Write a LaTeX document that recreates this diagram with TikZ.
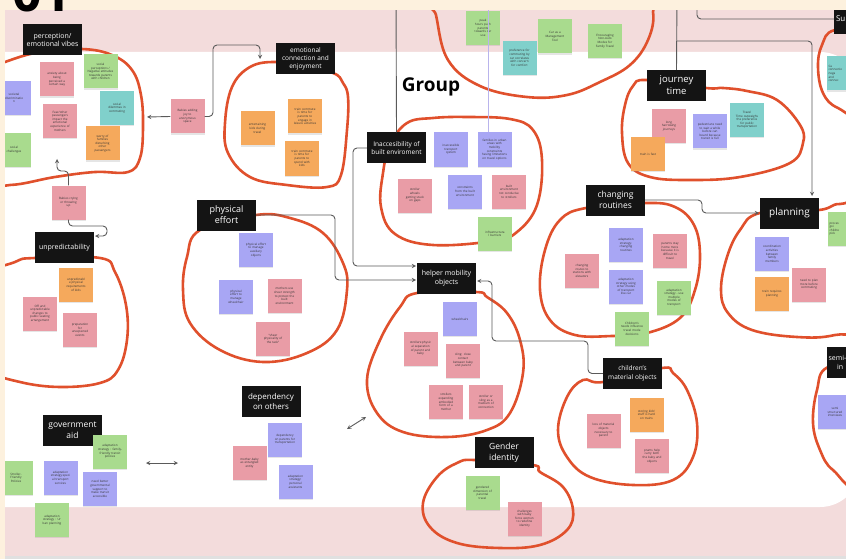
\documentclass[tikz,border=0pt]{standalone}
\usepackage{fontspec}
\setmainfont{Open Sans}
\usepackage{tikz}
\usetikzlibrary{arrows,shadows}

\definecolor{cream}{HTML}{FDF1DE}
\definecolor{bandpink}{HTML}{F3DCDC}
\definecolor{notepink}{HTML}{E99CA6}
\definecolor{notegreen}{HTML}{A9DB8E}
\definecolor{noteblue}{HTML}{A8A6F4}
\definecolor{noteorange}{HTML}{F5A95C}
\definecolor{noteteal}{HTML}{80D0CB}
\definecolor{loopred}{HTML}{E0502C}
\definecolor{linkgray}{HTML}{5A5A5A}
\definecolor{lavender}{HTML}{B9B4EC}

\tikzset{
  note/.style={minimum width=34pt, minimum height=34pt, text width=31pt, inner sep=1pt,
    align=center, font=\fontsize{3}{3.6}\selectfont, text=black!80,
    drop shadow={opacity=0.2, shadow xshift=0.4pt, shadow yshift=-1.2pt}},
  pinknote/.style={note, fill=notepink},
  greennote/.style={note, fill=notegreen},
  bluenote/.style={note, fill=noteblue},
  orangenote/.style={note, fill=noteorange},
  tealnote/.style={note, fill=noteteal},
  cutnote/.style={align=left, text width=31pt},
  header/.style={fill=black!92, text=white, minimum width=59pt, minimum height=31pt,
    inner sep=1pt, align=center},
  cluster/.style={draw=loopred, line width=2.6pt, line join=round},
  link/.style={draw=linkgray, line width=0.9pt, rounded corners=4pt},
  >=stealth
}

\begin{document}
\begin{tikzpicture}[x=1pt, y=-1pt]
  \useasboundingbox (0,0) rectangle (846,559);
  \clip (0,0) rectangle (846,559);
  % Board background:
  \fill[bandpink] (0,0) rectangle (846,559);
  \fill[white, rounded corners=40pt] (-60,52) rectangle (860,507);
  \fill[black!12] (0,556) rectangle (846,559);

  % Cluster outlines:
  \draw[cluster] plot[smooth cycle, tension=0.65] coordinates {(-25,75) (5,62) (40,52) (82,49) (112,55) (132,70) (141,95) (143,128) (140,158) (128,172) (95,172) (55,177) (10,185) (-25,180)};
  \draw[cluster] plot[smooth cycle, tension=0.65] coordinates {(333,73) (300,67) (275,62) (250,67) (232,87) (225,123) (228,153) (250,177) (287,185) (327,187) (341,175) (347,130) (348,97) (343,83)};
  \draw[cluster] plot[smooth cycle, tension=0.65] coordinates {(407,123) (433,118) (467,117) (510,119) (533,130) (542,160) (537,205) (517,232) (493,241) (433,245) (395,234) (381,207) (383,173) (390,145)};
  \draw[cluster] plot[smooth cycle, tension=0.65] coordinates {(432,-10) (436,15) (448,60) (480,86) (527,97) (567,95) (600,82) (630,65) (648,40) (653,12) (640,-10)};
  \draw[cluster] plot[smooth cycle, tension=0.65] coordinates {(647,80) (633,86) (625,105) (622,133) (628,163) (650,177) (690,180) (740,177) (790,163) (803,143) (800,125) (777,100) (747,91) (723,88) (706,88)};
  \draw[cluster] plot[smooth cycle, tension=0.65] coordinates {(835,30) (822,45) (818,67) (823,93) (838,108) (870,115) (880,30)};
  \draw[cluster] plot[smooth cycle, tension=0.65] coordinates {(586,208) (560,220) (545,250) (540,290) (550,320) (575,335) (612,336) (647,333) (680,318) (695,290) (700,255) (694,225) (675,207) (645,203)};
  \draw[cluster] plot[smooth cycle, tension=0.65] coordinates {(760,213) (740,230) (727,257) (721,290) (728,313) (752,330) (797,337) (835,335) (875,320) (875,210) (840,204) (819,210)};
  \draw[cluster] plot[smooth cycle, tension=0.65] coordinates {(35,258) (15,262) (-15,280) (-20,340) (-10,370) (20,382) (60,387) (100,383) (118,370) (127,340) (126,305) (115,272) (100,258)};
  \draw[cluster] plot[smooth cycle, tension=0.65] coordinates {(200,230) (187,257) (183,290) (190,323) (220,350) (263,362) (307,353) (337,330) (347,290) (343,263) (323,233) (290,218) (256,215)};
  \draw[cluster] plot[smooth cycle, tension=0.65] coordinates {(417,293) (400,307) (380,340) (367,380) (377,413) (403,432) (447,437) (487,430) (510,413) (523,373) (520,340) (507,313) (487,297) (476,292)};
  \draw[cluster] plot[smooth cycle, tension=0.65] coordinates {(603,382) (583,380) (567,397) (558,430) (567,457) (590,477) (633,485) (673,480) (693,457) (697,423) (687,390) (673,373) (662,368)};
  \draw[cluster] plot[smooth cycle, tension=0.65] coordinates {(828,367) (817,390) (813,423) (820,450) (833,470) (860,480) (875,360)};
  \draw[cluster] plot[smooth cycle, tension=0.65] coordinates {(475,460) (457,463) (437,477) (423,503) (430,527) (457,543) (500,548) (540,545) (567,530) (573,510) (563,487) (540,472) (533,465)};

  % Headers:
  \node[header, font=\fontsize{7}{8.5}\selectfont] (hPercep) at (52.5,40) {perception/\\emotional vibes};
  \node[header, font=\fontsize{6.5}{8}\selectfont] (hEmo) at (305.5,58.5) {emotional\\connection and\\enjoyment};
  \node[header, font=\fontsize{6.5}{8.5}\selectfont] (hInacc) at (396.5,148) {Inaccesibility of\\built enviroment};
  \node[header, font=\fontsize{9.5}{12}\selectfont] (hJourney) at (676.5,85.5) {journey\\time};
  \node[header, font=\fontsize{8.5}{11}\selectfont] (hRoutines) at (615.5,200) {changing\\routines};
  \node[header, font=\fontsize{10}{12}\selectfont] (hPlan) at (789.5,213) {planning};
  \node[header, font=\fontsize{7}{8.5}\selectfont] (hUnpred) at (64.5,247.5) {unpredictability};
  \node[header, font=\fontsize{9}{11}\selectfont] (hPhys) at (226.5,215) {physical\\effort};
  \node[header, font=\fontsize{7}{9}\selectfont] (hHelper) at (446.5,278) {helper mobility\\objects};
  \node[header, font=\fontsize{6.5}{8.5}\selectfont] (hChild) at (632.5,373.5) {children's\\material objects};
  \node[header, font=\fontsize{7}{9}\selectfont, align=left, text width=55pt] (hSemi) at (856,362.5) {semi-\\\hspace*{8.5pt}in};
  \node[header, font=\fontsize{8}{10}\selectfont] (hDep) at (271,401.5) {dependency\\on others};
  \node[header, font=\fontsize{8.5}{11}\selectfont] (hGov) at (72.5,430) {government\\aid};
  \node[header, font=\fontsize{8.5}{11}\selectfont] (hGender) at (504,452.5) {Gender\\identity};
  \node[header, font=\fontsize{8}{10}\selectfont, align=left, text width=55pt] (hSu) at (863.5,19) {Su};
  \node[font=\fontsize{19}{19}\selectfont\bfseries] (groupTitle) at (431,87) {Group};

  % Sticky notes: perception / emotional vibes
  \node[bluenote] (disc) at (14,98) {societal\\discriminatio\\n};
  \node[greennote] (chal) at (14,150) {social\\challenges};
  \node[pinknote] (anx) at (57,79.5) {anxiety about\\being\\perceived a\\certain way};
  \node[greennote] (negatt) at (100.5,71.5) {social\\perceptions /\\Negative attitudes\\towards parents\\with children};
  \node[pinknote] (fear) at (60,121) {Fear/other\\passengers\\impact the\\emotional\\experience of\\mothers};
  \node[tealnote] (dilem) at (117,108) {social\\dilemmas in\\commuting};
  \node[orangenote] (worry) at (102.5,143.5) {worry of\\families\\disturbing\\other\\passengers};
  \node[pinknote] (joy) at (187.5,116.5) {Babies adding\\joy to\\anonymous\\space};
  \node[pinknote] (cry) at (68.5,202.5) {Babies crying\\or throwing\\up};
  % emotional connection
  \node[orangenote] (entert) at (257.5,128.5) {entertaining\\kids during\\travel};
  \node[orangenote] (leisure) at (305,116.5) {train commute\\is time for\\parents to\\engage in\\leisure activities};
  \node[orangenote] (spend) at (302,158.5) {train commute\\is time for\\parents to\\spend with\\kids};
  % inaccessibility
  \node[bluenote] (inaccsys) at (451,149.5) {inaccessible\\transport\\system};
  \node[bluenote] (families) at (494.5,149.5) {families in urban\\areas with\\mobility\\constraints\\having limitations\\on travel options};
  \node[pinknote] (stuck) at (415,195.5) {stroller\\wheels\\getting stuck\\on gaps};
  \node[bluenote] (constr) at (465,191.5) {constraints\\from the built\\environment};
  \node[pinknote] (notcond) at (509,191.5) {built\\environment\\not conducive\\to strollers};
  \node[greennote] (infra) at (495,234) {infrastructura\\l barriers};
  % car
  \node[greennote] (peak) at (483,28) {peak\\hours push\\parents\\towards car\\use};
  \node[tealnote] (comfort) at (519.5,58) {preference for\\commuting by\\car correlates\\with concern\\for comfort};
  \node[greennote] (mgmt) at (555,36.5) {Car as a\\Management\\Tool};
  \node[greennote] (nonauto) at (605,41) {Encouraging\\Non-Auto\\Modes for\\Family Travel};
  % journey time
  \node[pinknote] (harrow) at (669,126) {long\\harrowing\\journeys};
  \node[bluenote] (wait) at (710,131.5) {pedestrians need\\to wait a while\\before can\\board because\\transit is full};
  \node[tealnote] (outweigh) at (747,120) {Travel\\Time outweighs\\the preference\\for public\\transportation};
  \node[orangenote] (fast) at (648,154) {train is fast};
  \node[tealnote, cutnote] (tealR) at (844,73.5) {Ca\\connectio\\nega\\and\\connec};
  % changing routines
  \node[bluenote] (chroutines) at (626,245) {adaptation\\strategy:\\changing\\routines};
  \node[pinknote] (stayhome) at (670,251) {parents stay\\home more\\because it is\\difficult to\\travel};
  \node[pinknote] (elev) at (582,271) {changing\\routes to\\stations with\\elevators};
  \node[bluenote] (othermodes) at (626,286.5) {adaptation\\strategy using\\other modes\\of transport\\like car};
  \node[greennote] (multimodes) at (674,297.5) {adaptation\\strategy - use\\multiple\\modes of\\transport};
  \node[greennote] (needs) at (632,328.5) {Children's\\needs influence\\travel mode\\decisions};
  % planning
  \node[bluenote] (coord) at (772,254) {coordination\\activities\\between\\family\\members};
  \node[pinknote] (planmore) at (809,284.5) {need to plan\\more before\\commuting};
  \node[orangenote] (trainplan) at (772,293.5) {train requires\\planning};
  \node[greennote, cutnote] (greenR) at (845,229) {proces\\goi\\childre\\pick};
  % unpredictability
  \node[orangenote] (kidsreq) at (76,284.5) {unpredictabl\\e physical\\requirements\\of kids};
  \node[pinknote] (seating) at (40,313.5) {Off and\\unpredictable\\changes to\\public seating\\arrangement};
  \node[pinknote] (prep) at (80,330) {preparation\\for\\unexpected\\events};
  % physical effort
  \node[bluenote] (auxil) at (256,250) {physical effort\\to manage\\auxiliary\\objects};
  \node[bluenote] (wheel) at (236,296.5) {physical\\effort to\\manage\\wheelchair};
  \node[pinknote] (sheer) at (284.5,296) {mothers use\\sheer strength\\to protest the\\built\\environment};
  \node[pinknote] (task) at (273,338.5) {“sheer\\physicality of\\the task”};
  % helper mobility objects
  \node[bluenote] (wchairs) at (460,319) {wheelchairs};
  \node[pinknote] (separ) at (420.5,348.5) {strollers:physic\\al separation\\of parent and\\baby};
  \node[pinknote] (sling) at (463,360.5) {sling: close\\contact\\between baby\\and parent};
  \node[pinknote] (embod) at (446,402) {strollers\\expanding\\embodied\\form of a\\mother};
  \node[pinknote] (medium) at (486,402) {stroller or\\sling as a\\medium of\\connection};
  % children's material objects
  \node[pinknote] (loss) at (603.5,430.5) {loss of material\\objects\\necessary to\\parent};
  \node[orangenote] (storing) at (646.5,414.5) {storing kids'\\stuff is hard\\on trains};
  \node[pinknote] (prams) at (652,456) {prams help\\carry both\\the baby and\\objects};
  \node[bluenote] (semiN) at (835,412) {semi\\structured\\interviews};
  % government aid
  \node[greennote] (sfp) at (16,477.5) {Stroller-\\Friendly\\Policies};
  \node[greennote] (famtransit) at (110,451.5) {adaptation\\strategy : family-\\friendly transit\\policies};
  \node[bluenote] (special) at (60.5,477.5) {adaptation\\strategy:speci\\al transport\\services};
  \node[bluenote] (govsup) at (100,489) {need better\\governmental\\support to\\make transit\\accessible};
  \node[greennote] (urban) at (52,520) {adaptation\\strategy : Ur\\ban planning};
  % dependency on others
  \node[bluenote] (depparents) at (285,439.5) {dependency\\on parents for\\transportation};
  \node[pinknote] (entangled) at (249.5,463) {mother-baby\\as entangled\\entity};
  \node[bluenote] (assist) at (295.5,481.5) {adaptation\\strategy:\\personal\\assistants};
  % gender identity
  \node[greennote] (gendered) at (482.5,493) {gendered\\dimension of\\parental\\travel};
  \node[pinknote] (redefine) at (524.5,518.5) {challenges\\with baby\\force women\\to redefine\\identity};

  % Connectors:
  \coordinate (topA) at (396,-5);
  \coordinate (topB) at (488,-5);
  \coordinate (topC) at (677,-5);
  \coordinate (topD) at (697,-5);
  \coordinate (fork) at (677,41);
  \coordinate (percIn) at (147,117);
  \coordinate (percUp) at (57,159);
  \coordinate (emoIn) at (260,59);
  \coordinate (unpredIn) at (95,236);
  \coordinate (helpInA) at (416,266);
  \coordinate (helpInB) at (416,280);
  \coordinate (helpInC) at (477,281);
  \coordinate (planInA) at (812,196);
  \coordinate (planInB) at (759,213);
  \coordinate (govR) at (146,463);
  \coordinate (depL) at (178,463);
  \coordinate (depR) at (347,429);
  \coordinate (helpL) at (366,417);
  \draw[link,->] (joy.west) -- (percIn);
  \draw[link,->] (joy.east) -| (213,45) -| (emoIn);
  \draw[link,->] (cry.north) |- (57,171) -- (percUp);
  \draw[link,->] (cry.south) |- (107,226) |- (unpredIn);
  \draw[link] (topA) -- (hInacc.north);
  \draw[draw=lavender, line width=0.9pt] (topB) -- (topB |- families.north);
  \draw[link,->] (hInacc.west) -| (353,266) -- (helpInA);
  \draw[link,->] (hPhys.east) -| (335,280) -- (helpInB);
  \draw[link,->] (hChild.west) -| (588,341) -| (492,281) -- (helpInC);
  \draw[link] (topC) -- (hJourney.north);
  \draw[link,->] (fork) -| (planInA);
  \draw[link] (topD) |- (hSu.west);
  \draw[link,->] (hRoutines.east) -| (702,213) -- (planInB);
  \draw[link,<->] (govR) -- (depL);
  \draw[link,<->] (depR) -- (helpL);

  % Board frame:
  \fill[cream] (0,0) rectangle (846,10);
  \fill[cream] (0,0) rectangle (5,559);
  \node[anchor=base west, font=\fontsize{52}{52}\selectfont\bfseries, inner sep=0pt] (boardNum) at (12,12) {01};
\end{tikzpicture}
\end{document}
